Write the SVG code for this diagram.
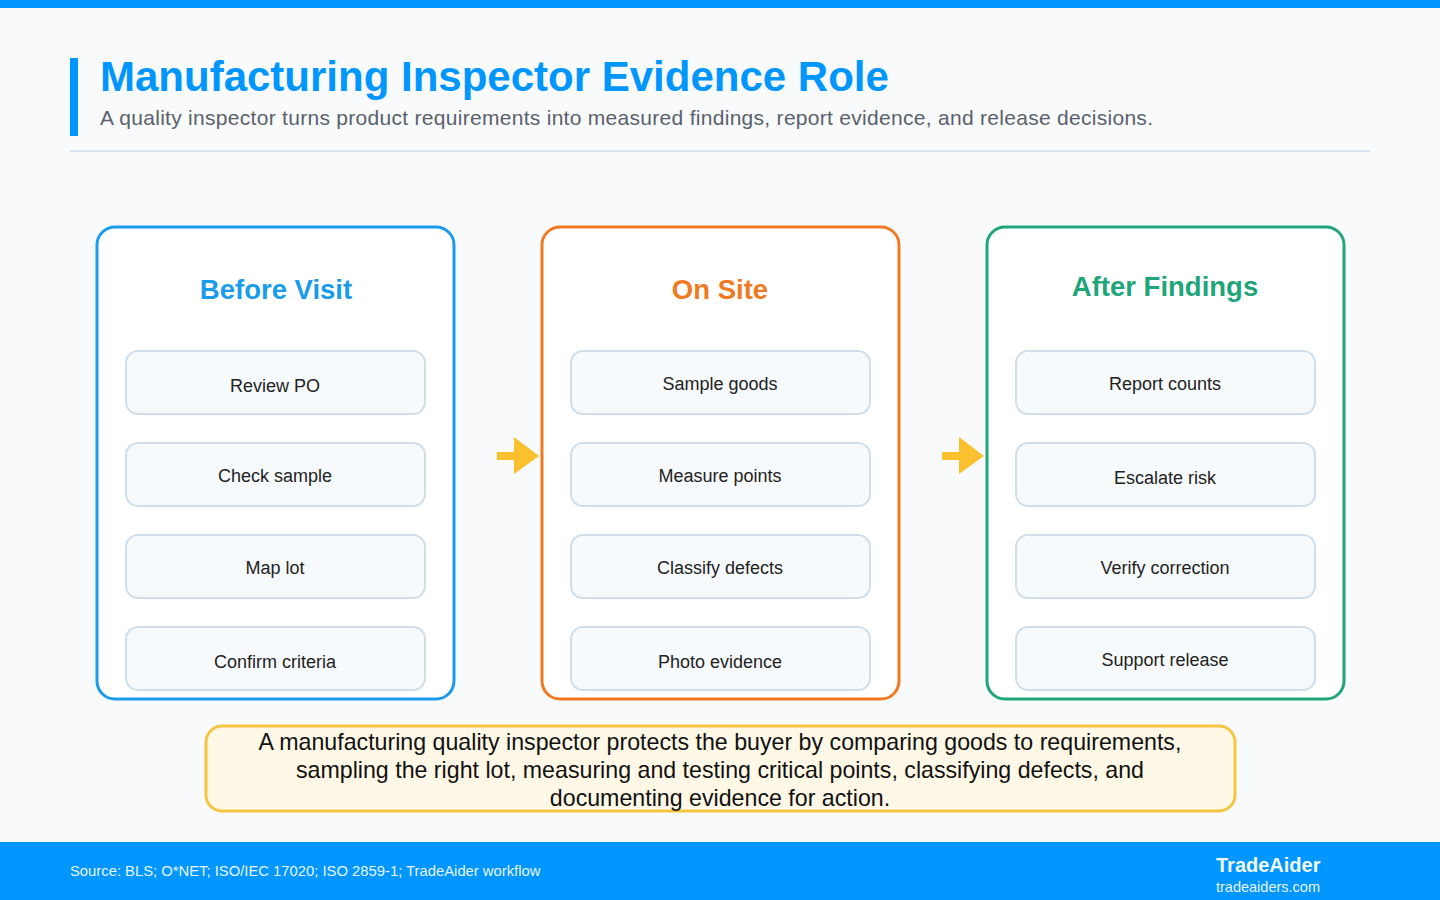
<svg xmlns="http://www.w3.org/2000/svg" width="1440" height="900" viewBox="0 0 1440 900">
<defs>
<style>
text{font-family:"Liberation Sans",Arial,sans-serif}
.item rect{fill:#F7FAFC;stroke:#CFDEEA;stroke-width:2}
.item text{font-size:18px;fill:#222;text-anchor:middle}
.ptitle{font-size:27.5px;font-weight:bold;text-anchor:middle}
.arrow{fill:#FBC02D}
.sum{font-size:23.2px;fill:#111;text-anchor:middle}
</style>
</defs>
<rect x="0" y="0" width="1440" height="900" fill="#F8FAFC"/>
<rect x="0" y="0" width="1440" height="8" fill="#0096FF"/>
<rect x="70" y="58" width="8" height="78" fill="#0096FF"/>
<text x="100" y="91" font-size="42" font-weight="bold" fill="#0096FF">Manufacturing Inspector Evidence Role</text>
<text x="100" y="125" font-size="21" fill="#5B616B" textLength="1053" lengthAdjust="spacing">A quality inspector turns product requirements into measured findings, report evidence, and release decisions.</text>
<rect x="70" y="150" width="1300" height="2" fill="#D8E5F0"/>

<g id="panel-before">
<rect x="97" y="227" width="357" height="472" rx="18" fill="#FFFFFF" stroke="#1A9BEB" stroke-width="3"/>
<text class="ptitle" x="276" y="299" fill="#1A9BEB">Before Visit</text>
<g class="item" id="review-po"><rect x="126" y="351" width="299" height="63" rx="12"/><text x="275" y="392">Review PO</text></g>
<g class="item" id="check-sample"><rect x="126" y="443" width="299" height="63" rx="12"/><text x="275" y="482">Check sample</text></g>
<g class="item" id="map-lot"><rect x="126" y="535" width="299" height="63" rx="12"/><text x="275" y="574">Map lot</text></g>
<g class="item" id="confirm-criteria"><rect x="126" y="627" width="299" height="63" rx="12"/><text x="275" y="668">Confirm criteria</text></g>
</g>

<g id="panel-onsite">
<rect x="542" y="227" width="357" height="472" rx="18" fill="#FFFFFF" stroke="#F07A22" stroke-width="3"/>
<text class="ptitle" x="720" y="299" fill="#F07A22">On Site</text>
<g class="item" id="sample-goods"><rect x="571" y="351" width="299" height="63" rx="12"/><text x="720" y="390">Sample goods</text></g>
<g class="item" id="measure-points"><rect x="571" y="443" width="299" height="63" rx="12"/><text x="720" y="482">Measure points</text></g>
<g class="item" id="classify-defects"><rect x="571" y="535" width="299" height="63" rx="12"/><text x="720" y="574">Classify defects</text></g>
<g class="item" id="photo-evidence"><rect x="571" y="627" width="299" height="63" rx="12"/><text x="720" y="668">Photo evidence</text></g>
</g>

<g id="panel-after">
<rect x="987" y="227" width="357" height="472" rx="18" fill="#FFFFFF" stroke="#1FA57A" stroke-width="3"/>
<text class="ptitle" x="1165" y="296" fill="#1FA57A">After Findings</text>
<g class="item" id="report-counts"><rect x="1016" y="351" width="299" height="63" rx="12"/><text x="1165" y="390">Report counts</text></g>
<g class="item" id="escalate-risk"><rect x="1016" y="443" width="299" height="63" rx="12"/><text x="1165" y="484">Escalate risk</text></g>
<g class="item" id="verify-correction"><rect x="1016" y="535" width="299" height="63" rx="12"/><text x="1165" y="574">Verify correction</text></g>
<g class="item" id="support-release"><rect x="1016" y="627" width="299" height="63" rx="12"/><text x="1165" y="666">Support release</text></g>
</g>

<g id="connectors">
<path class="arrow" d="M497 452 H514 V437 L539 456 L514 474 V460 H497 Z"/>
<path class="arrow" d="M942 452 H959 V437 L984 456 L959 474 V460 H942 Z"/>
</g>

<g id="summary">
<rect x="206" y="726" width="1029" height="85" rx="16" fill="#FFF8E6" stroke="#F5C542" stroke-width="3"/>
<text class="sum" x="720" y="750">A manufacturing quality inspector protects the buyer by comparing goods to requirements,</text>
<text class="sum" x="720" y="778">sampling the right lot, measuring and testing critical points, classifying defects, and</text>
<text class="sum" x="720" y="806">documenting evidence for action.</text>
</g>

<rect x="0" y="842" width="1440" height="58" fill="#0096FF"/>
<text x="70" y="876" font-size="14.8" fill="#E8F4FF">Source: BLS; O*NET; ISO/IEC 17020; ISO 2859-1; TradeAider workflow</text>
<text x="1216" y="872" font-size="20" font-weight="bold" fill="#F2F8FF">TradeAider</text>
<text x="1216" y="892" font-size="14.5" fill="#E8F4FF">tradeaiders.com</text>
</svg>
